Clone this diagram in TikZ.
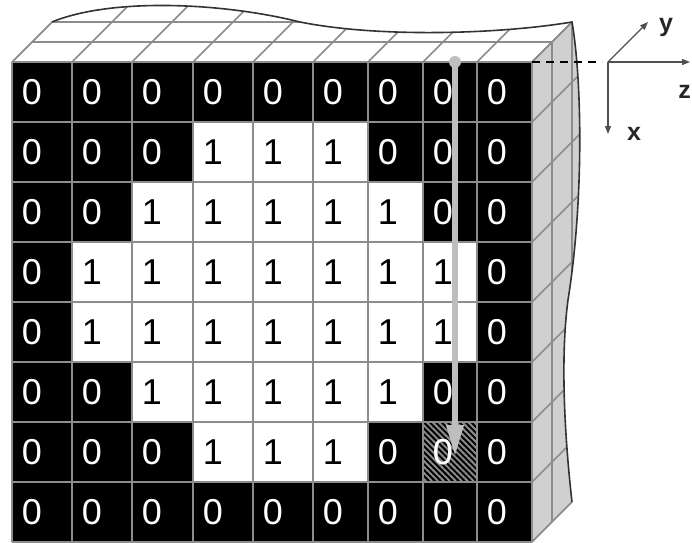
\documentclass[tikz,border=0pt]{standalone}
\usepackage{fontspec}
\setmainfont{Liberation Sans}
\usepackage{tikz}
\usetikzlibrary{arrows.meta,patterns.meta}
\definecolor{linegray}{HTML}{8C8C8C}
\definecolor{sidegray}{HTML}{D0D0D0}
\definecolor{scangray}{HTML}{BEBEBE}
\definecolor{edgedark}{HTML}{333333}
\definecolor{axisgray}{HTML}{505050}
\begin{document}
\begin{tikzpicture}[x=0.5pt, y=-0.5pt,
   gridline/.style={draw=linegray, line width=0.8pt},
   edgecurve/.style={draw=edgedark, line width=0.8pt},
   cell0/.style={fill=black}, cell1/.style={fill=white},
   digit/.style={font=\fontsize{18}{18}\selectfont, inner sep=0pt},
   digit0/.style={text=white}, digit1/.style={text=black},
   scanarrow/.style={draw=scangray, line width=3.2pt,
                     -{Triangle[width=8pt,length=16pt]}},
   axisline/.style={draw=axisgray, line width=0.6pt,
                    -{Triangle[width=3pt,length=4pt]}},
   axislabel/.style={font=\fontsize{12.5}{14}\selectfont\bfseries,
                     text=black!85, inner sep=0pt},
   dashline/.style={draw=black, line width=1pt, dash pattern=on 4pt off 3pt}]
  \useasboundingbox (0,0) rectangle (692,542);
  % corners of the block
  \coordinate (ftl) at (12,62);
  \coordinate (ftr) at (532,62);
  \coordinate (fbr) at (532,542);
  \coordinate (ttl) at (52,22);
  \coordinate (ttr) at (572,22);
  \coordinate (sbr) at (572,502);
  % top face
  \begin{scope}
    \clip (ftl) -- (ttl) .. controls (110,-2) and (220,2) .. (300,22)
      .. controls (380,38) and (500,34) .. (ttr) -- (ftr) -- cycle;
    \fill[white] (0,0) rectangle (600,62);
    \foreach \xb in {12,72,132,193,253,313,368,423,477,532}
      \draw[gridline] (\xb,62) -- ++(80,-80);
    \foreach \d in {1,2}
      \draw[gridline] (12+20*\d,62-20*\d) -- ++(520,0);
  \end{scope}
  % side face
  \begin{scope}
    \clip (ftr) -- (ttr) .. controls (582,80) and (584,200) .. (568,300)
      .. controls (560,360) and (565,440) .. (sbr) -- (fbr) -- cycle;
    \fill[sidegray] (520,0) rectangle (600,542);
    \foreach \xb in {552,572}
      \draw[gridline] (\xb,0) -- (\xb,542);
    \foreach \r in {0,...,8}
      \draw[gridline] (532,62+60*\r) -- ++(80,-80);
  \end{scope}
  \draw[gridline] (ftl) -- (ttl);
  \draw[gridline] (ftr) -- (ttr);
  \draw[gridline] (fbr) -- (sbr);
  \draw[edgecurve] (ttl) .. controls (110,-2) and (220,2) .. (300,22)
    .. controls (380,38) and (500,34) .. (ttr)
    .. controls (582,80) and (584,200) .. (568,300)
    .. controls (560,360) and (565,440) .. (sbr);
  % front face
  \foreach \row [count=\r] in {{0,0,0,0,0,0,0,0,0},{0,0,0,1,1,1,0,0,0},
      {0,0,1,1,1,1,1,0,0},{0,1,1,1,1,1,1,1,0},{0,1,1,1,1,1,1,1,0},
      {0,0,1,1,1,1,1,0,0},{0,0,0,1,1,1,0,0,0},{0,0,0,0,0,0,0,0,0}} {
    \foreach \v [count=\c] in \row {
      \pgfmathsetmacro\xl{{12,72,132,193,253,313,368,423,477,532}[\c-1]}
      \pgfmathsetmacro\xr{{12,72,132,193,253,313,368,423,477,532}[\c]}
      \pgfmathsetmacro\yt{2+60*\r}
      \fill[cell\v] (\xl,\yt) rectangle (\xr,\yt+60);
      \node[digit, digit\v] (d-\r-\c) at (\xl+20,\yt+30) {\v};
    }
  }
  \fill[pattern={Lines[angle=-45,distance=2.1pt,line width=1pt]},
        pattern color=gray!90] (423,422) rectangle (477,482);
  \node[digit, digit0] (d-7-8h) at (d-7-8) {0};
  \foreach \xb in {12,72,132,193,253,313,368,423,477,532}
    \draw[gridline] (\xb,62) -- (\xb,542);
  \foreach \r in {0,...,8}
    \draw[gridline] (12,62+60*\r) -- (532,62+60*\r);
  % scan direction
  \coordinate (scantop) at (455,62);
  \coordinate (scanend) at (455,457);
  \draw[scanarrow] (scantop) -- (scanend);
  \fill[scangray] (scantop) circle (3pt);
  % axes
  \coordinate (orig) at (608,62);
  \coordinate (yend) at (648,22);
  \coordinate (zend) at (690,62);
  \coordinate (xend) at (608,134);
  \draw[dashline, shorten >=3pt] (ftr) -- (orig);
  \draw[axisline] (orig) -- (yend);
  \draw[axisline] (orig) -- (zend);
  \draw[axisline] (orig) -- (xend);
  \node[axislabel] (ylab) at (666,27) {y};
  \node[axislabel] (xlab) at (634,134) {x};
  \node[axislabel, anchor=west] (zlab) at (678,92) {z};
\end{tikzpicture}
\end{document}
